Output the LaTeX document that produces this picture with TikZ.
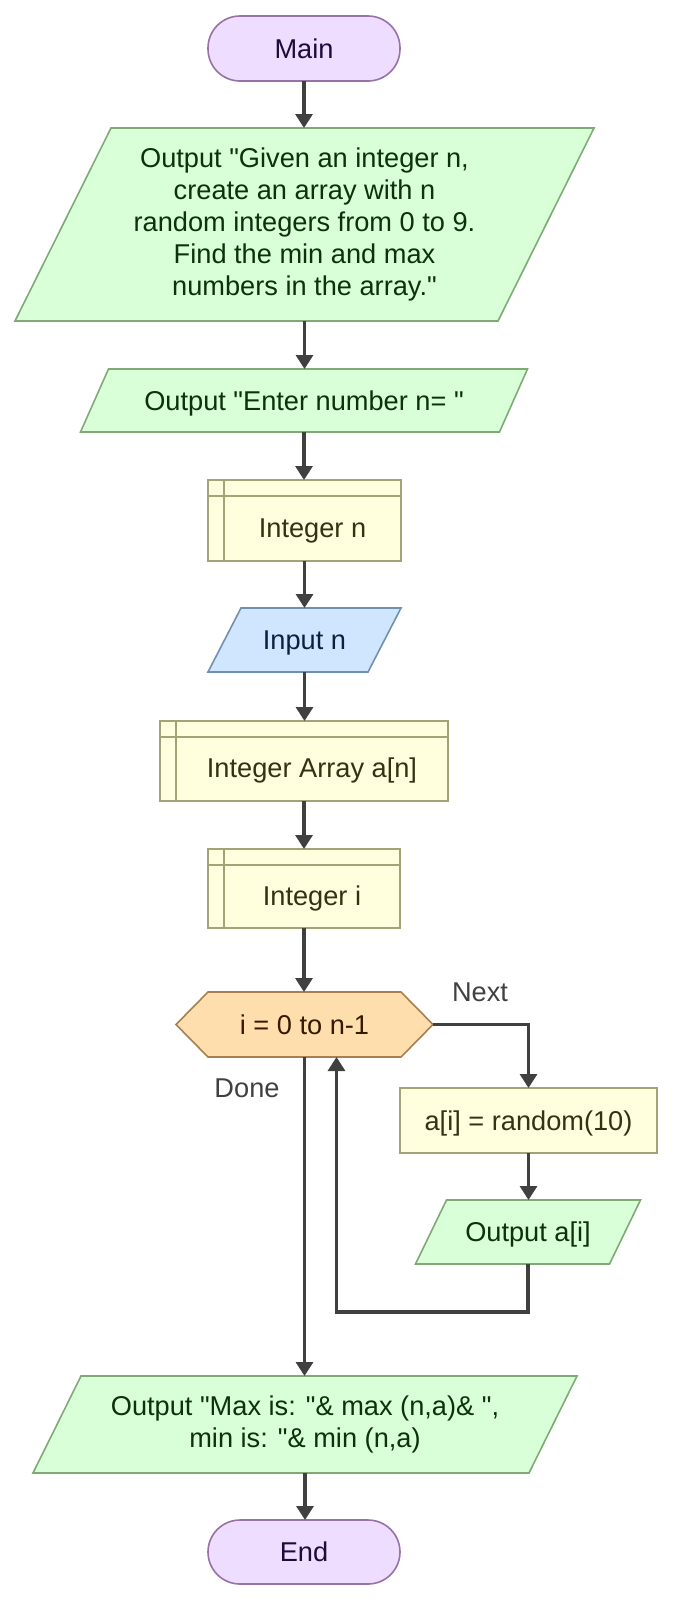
\documentclass[tikz,border=0pt]{standalone}
\usepackage{fontspec}
\setmainfont{Liberation Sans}[Ligatures=TeXOff]
\usetikzlibrary{arrows.meta}
\definecolor{termF}{HTML}{EEDDFF}
\definecolor{termB}{HTML}{9673A6}
\definecolor{termT}{HTML}{1F0A3A}
\definecolor{outF}{HTML}{D9FFD9}
\definecolor{outB}{HTML}{7FAA75}
\definecolor{outT}{HTML}{0A330A}
\definecolor{decF}{HTML}{FFFFDD}
\definecolor{decB}{HTML}{A3A37A}
\definecolor{decT}{HTML}{333311}
\definecolor{inF}{HTML}{D0E6FF}
\definecolor{inB}{HTML}{7090B0}
\definecolor{inT}{HTML}{0A2240}
\definecolor{hexF}{HTML}{FFDEAD}
\definecolor{hexB}{HTML}{A8804F}
\definecolor{hexT}{HTML}{331A00}
\definecolor{arrowC}{HTML}{404040}
\pgfdeclarelayer{bg}
\pgfsetlayers{bg,main}
\begin{document}
\begin{tikzpicture}[x=0.5pt,y=-0.5pt,
  every node/.style={font=\fontsize{13.6}{16}\selectfont, inner sep=0pt, outer sep=0pt, align=center},
  capc/.style={text height=9.7pt, text depth=0pt},
  decc/.style={text height=16.7pt, text depth=0pt},
  term/.style={capc, draw=termB, fill=termF, text=termT, line width=0.8pt, rounded corners=16pt, minimum width=96pt},
  decl/.style={decc, draw=decB, fill=decF, text=decT, line width=0.8pt},
  proc/.style={capc, draw=decB, fill=decF, text=decT, line width=0.8pt},
  outtxt/.style={text=outT},
  outshape/.style={draw=outB, fill=outF, line width=0.8pt},
  inshape/.style={draw=inB, fill=inF, line width=0.8pt},
  hexshape/.style={draw=hexB, fill=hexF, line width=0.8pt},
  declline/.style={draw=decB, line width=0.8pt},
  lbl/.style={capc, text=arrowC},
  arr/.style={draw=arrowC, line width=1.6pt, -{Triangle[length=7pt,width=8.5pt]}}
]
\useasboundingbox (0,0) rectangle (673,1601);

% nodes
\node[term, minimum height=32.5pt] (main) at (304,48.5) {Main};
\node[outtxt, minimum width=241.5pt, minimum height=96.5pt] (p1) at (304.5,224.5)
  {Output "Given an integer n,\\create an array with n\\random integers from 0 to 9.\\Find the min and max\\numbers in the array."};
\node[outtxt, capc, minimum width=209.5pt, minimum height=31.5pt] (p2) at (304,400.5) {Output "Enter number n= "};
\node[decl, minimum width=96.5pt, minimum height=40.5pt] (intn) at (304.5,520.5) {\hspace*{8pt}Integer n};
\node[capc, text=inT, minimum width=80pt, minimum height=32pt] (inp) at (304.5,640) {Input n};
\node[decl, minimum width=144pt, minimum height=40pt] (arr) at (304,761) {\hspace*{8pt}Integer Array a[n]};
\node[decl, minimum width=96pt, minimum height=39.5pt] (inti) at (304,888.5) {\hspace*{8pt}Integer i};
\node[capc, text=hexT, minimum width=96.5pt, minimum height=32.5pt] (loop) at (304.5,1024.5) {i = 0 to n-1};
\node[proc, minimum width=128.5pt, minimum height=32.5pt] (ai) at (528.5,1120.5) {a[i] = random(10)};
\node[outtxt, capc, minimum width=97pt, minimum height=32pt] (outai) at (528,1232) {Output a[i]};
\node[outtxt, minimum width=248pt, minimum height=48.5pt] (p3) at (305,1424.5)
  {Output "Max is: "\& max (n,a)\& ",\\min is: "\& min (n,a)};
\node[term, minimum height=32pt] (endn) at (304,1552) {End};
\node[lbl] (next) at (480,992) {Next};
\node[lbl] (done) at (247,1088) {Done};

% shapes on background
\begin{pgfonlayer}{bg}
\path[outshape] ([xshift=-24pt]p1.south west) -- ([xshift=-24pt]p1.south east) -- ([xshift=24pt]p1.north east) -- ([xshift=24pt]p1.north west) -- cycle;
\path[outshape] ([xshift=-7pt]p2.south west) -- ([xshift=-7pt]p2.south east) -- ([xshift=7pt]p2.north east) -- ([xshift=7pt]p2.north west) -- cycle;
\path[inshape] ([xshift=-8.25pt]inp.south west) -- ([xshift=-8.25pt]inp.south east) -- ([xshift=8.25pt]inp.north east) -- ([xshift=8.25pt]inp.north west) -- cycle;
\path[outshape] ([xshift=-7.75pt]outai.south west) -- ([xshift=-7.75pt]outai.south east) -- ([xshift=7.75pt]outai.north east) -- ([xshift=7.75pt]outai.north west) -- cycle;
\path[outshape] ([xshift=-12pt]p3.south west) -- ([xshift=-12pt]p3.south east) -- ([xshift=12pt]p3.north east) -- ([xshift=12pt]p3.north west) -- cycle;
\path[hexshape] (loop.north west) -- (loop.north east) -- ([xshift=16pt]loop.east) -- (loop.south east) -- (loop.south west) -- ([xshift=-16pt]loop.west) -- cycle;
\end{pgfonlayer}

% declaration inner lines
\foreach \n in {intn,arr,inti}{
  \draw[declline] ([xshift=8pt]\n.north west) -- ([xshift=8pt]\n.south west);
  \draw[declline] ([yshift=-8pt]\n.north west) -- ([yshift=-8pt]\n.north east);
}

% connectors
\coordinate (loopR) at ([xshift=16pt]loop.east);
\coordinate (back) at ([xshift=16pt]loop.south);
\draw[arr] (main.south) -- (main.south |- p1.north);
\draw[arr] (p1.south) -- (p1.south |- p2.north);
\draw[arr] (p2.south) -- (p2.south |- intn.north);
\draw[arr] (intn.south) -- (intn.south |- inp.north);
\draw[arr] (inp.south) -- (inp.south |- arr.north);
\draw[arr] (arr.south) -- (arr.south |- inti.north);
\draw[arr] (inti.south) -- (inti.south |- loop.north);
\draw[arr] (loopR) -| (ai.north);
\draw[arr] (ai.south) -- (ai.south |- outai.north);
\draw[arr] (outai.south) -- ++(0,-24pt) -| (back);
\draw[arr] (loop.south) -- (loop.south |- p3.north);
\draw[arr] (p3.south) -- (p3.south |- endn.north);
\end{tikzpicture}
\end{document}
